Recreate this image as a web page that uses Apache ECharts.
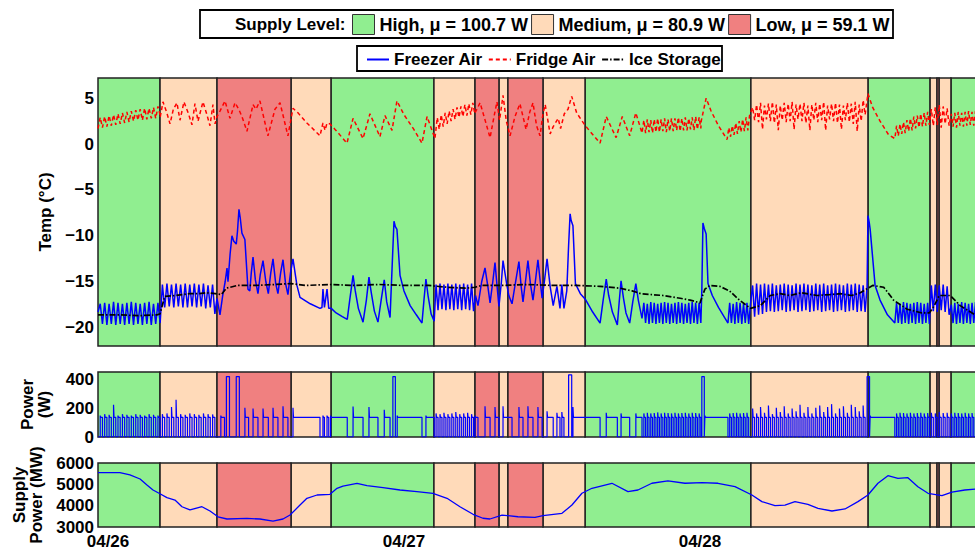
<!DOCTYPE html>
<html><head><meta charset="utf-8">
<script src="https://cdn.jsdelivr.net/npm/echarts@6/dist/echarts.min.js"></script>
<style>html,body{margin:0;padding:0;background:#fff}#c{width:975px;height:551px}</style>
</head><body><div id="c"></div>
<script>
// ---------------- DATA (time in hours since 04/26 00:00) ----------------
const levelNames = ['High, μ = 100.7 W', 'Medium, μ = 80.9 W', 'Low, μ = 59.1 W'];
const lineNames = ['Freezer Air', 'Fridge Air', 'Ice Storage'];
const xTickHours = [0, 24, 48];
const xTickLabels = ['04/26', '04/27', '04/28'];
const tempTicks = [-20, -15, -10, -5, 0, 5];
const powerTicks = [0, 200, 400];
const supplyTicks = [3000, 4000, 5000, 6000];

// supply-level periods: edges and level index (0 High, 1 Medium, 2 Low)
const bandEdges = [-0.81, 4.22, 8.84, 14.84, 18.08, 26.43, 29.76, 31.70, 32.43, 35.27, 38.68, 52.13, 61.62, 66.66, 67.22, 67.38, 68.35, 71.2];
const bandLevels = [0, 1, 2, 1, 0, 1, 2, 1, 2, 1, 0, 1, 0, 1, 2, 1, 0];

// Freezer air temperature: irregular readings [hour, °C]
const freezerPts = [
 [8.84,-16.8],[9.08,-18.6],[9.3,-16.5],[9.5,-15.0],[9.65,-13.5],[9.73,-15.0],[9.9,-12.0],[10.05,-10.0],[10.2,-10.6],[10.4,-10.9],[10.5,-9.5],[10.62,-7.1],[10.72,-8.0],[10.86,-9.7],[11.1,-10.4],[11.35,-15.8],[11.5,-16.0],[11.62,-14.0],[11.76,-12.3],[11.95,-14.8],[12.16,-16.3],[12.35,-14.2],[12.57,-12.7],[12.8,-15.0],[13.0,-16.3],[13.2,-14.0],[13.38,-12.5],[13.6,-15.2],[13.78,-16.3],[14.0,-14.0],[14.19,-12.6],[14.4,-15.2],[14.59,-16.4],[14.8,-14.0],[15.0,-12.5],[15.32,-15.4],[15.57,-16.7],[16.4,-17.4],[17.19,-17.9],[17.35,-17.8],[17.43,-15.8],[17.55,-17.8],[17.76,-15.8],[17.9,-17.9],
 [18.1,-17.9],[18.5,-18.4],[19.0,-18.8],[19.4,-19.1],[19.6,-17.0],[19.87,-14.3],[20.05,-16.0],[20.3,-17.9],[20.68,-19.4],[20.95,-17.0],[21.16,-14.5],[21.35,-16.2],[21.6,-18.2],[21.89,-19.4],[22.15,-17.0],[22.4,-14.8],[22.6,-17.2],[22.87,-18.9],[23.05,-13.0],[23.19,-8.4],[23.3,-9.0],[23.43,-9.3],[23.68,-14.3],[24.0,-16.0],[24.5,-17.6],[25.0,-18.6],[25.46,-19.5],[25.62,-17.0],[25.78,-14.7],[25.95,-16.5],[26.2,-18.5],[26.45,-19.3],
 [29.8,-16.5],[30.0,-17.6],[30.3,-15.0],[30.57,-13.5],[30.8,-15.5],[30.98,-17.3],[31.2,-15.0],[31.38,-12.9],[31.55,-15.5],[31.70,-17.7],[31.9,-15.0],[32.03,-12.7],[32.3,-15.0],[32.5,-16.5],[32.76,-17.4],[33.05,-15.0],[33.32,-12.8],[33.5,-15.5],[33.65,-17.2],[33.85,-15.0],[34.05,-12.7],[34.25,-15.2],[34.46,-17.0],[34.65,-15.0],[34.86,-12.6],[35.05,-15.0],[35.2,-16.8],[35.4,-14.8],[35.6,-12.5],[35.85,-15.5],[36.1,-17.6],[36.4,-15.5],[36.65,-17.9],[36.8,-15.3],[36.97,-17.9],[37.2,-16.0],[37.35,-11.0],[37.47,-7.6],[37.55,-8.3],[37.7,-8.9],[37.9,-15.2],[38.3,-16.3],[38.7,-16.9],[39.3,-18.3],[39.9,-19.5],[40.15,-17.0],[40.4,-14.7],[40.6,-16.5],[40.9,-18.3],[41.3,-19.7],[41.45,-17.2],[41.6,-14.9],[41.8,-16.8],[42.0,-18.4],[42.3,-19.5],[42.55,-17.2],[42.8,-15.2],[43.0,-17.0],[43.3,-19.0],
 [48.15,-16.0],[48.24,-8.6],[48.35,-9.2],[48.5,-9.8],[48.65,-15.2],[49.0,-16.5],[49.5,-17.8],[50.0,-18.9],[50.27,-19.5],
 [61.55,-15.5],[61.62,-7.8],[61.72,-8.5],[61.8,-9.3],[62.2,-15.4],[62.6,-17.0],[63.2,-18.6],[63.8,-19.5]
];
// Freezer air: regularly sampled cycling stretches [start hour, step hour, readings]
const freezerRuns = [
 [-0.81, 0.18, [-18.3,-17.4,-19.6,-17.3,-19.7,-17.4,-19.6,-17.2,-19.7,-17.3,-19.6,-17.4,-19.7,-17.3,-19.6,-17.2,-19.7,-17.3,-19.6,-17.4,-19.7,-17.3,-19.6,-17.2,-19.7,-17.4,-19.6,-17.3,-19.5]],
 [4.41, 0.185, [-15.3,-17.8,-15.2,-17.7,-15.3,-17.8,-15.2,-17.7,-15.3,-17.8,-15.2,-17.8,-15.3,-17.7,-15.2,-17.8,-15.3,-17.7,-15.2,-17.9,-15.4,-17.8,-15.3,-18.5]],
 [26.6, 0.16, [-15.3,-18.1,-15.2,-18.0,-15.3,-18.1,-15.2,-18.0,-15.3,-18.1,-15.2,-18.0,-15.3,-18.1,-15.2,-18.0,-15.3,-18.1,-15.2,-18.2]],
 [43.45, 0.14, [-17.3,-19.5,-17.4,-19.6,-17.2,-19.5,-17.3,-19.6,-17.4,-19.5,-17.3,-19.6,-17.2,-19.5,-17.3,-19.6,-17.4,-19.5,-17.3,-19.6,-17.2,-19.5,-17.3,-19.6,-17.4,-19.5,-17.3,-19.6,-17.2,-19.5,-17.3,-19.6,-17.3,-19.5]],
 [50.41, 0.14, [-17.3,-19.5,-17.4,-19.6,-17.2,-19.5,-17.3,-19.6,-17.4,-19.5,-17.3,-19.6,-17.5]],
 [52.27, 0.16, [-15.4,-18.8,-15.2,-18.6,-15.3,-18.5,-15.2,-18.3,-15.3,-18.2,-15.2,-18.3,-15.4,-18.2,-15.3,-18.1,-15.2,-18.3,-15.3,-18.2,-15.4,-18.1,-15.2,-18.3,-15.3,-18.2,-15.2,-18.1,-15.3,-18.3,-15.4,-18.2,-15.2,-18.1,-15.3,-18.3,-15.2,-18.2,-15.4,-18.1,-15.3,-18.3,-15.2,-18.2,-15.3,-18.1,-15.4,-18.3,-15.2,-18.2,-15.3,-18.1,-15.2,-18.3,-15.3,-18.2,-15.4,-18.3]],
 [63.94, 0.14, [-17.3,-19.5,-17.4,-19.6,-17.2,-19.5,-17.3,-19.6,-17.4,-19.5,-17.3,-19.6,-17.2,-19.5,-17.3,-19.6,-17.4,-19.5,-17.3,-19.6]],
 [66.76, 0.16, [-15.4,-18.2,-15.3,-18.3,-15.4,-18.1,-15.3,-18.3,-15.5,-18.6]],
 [68.38, 0.14, [-17.5,-19.5,-17.3,-19.6,-17.4,-19.5,-17.2,-19.6,-17.3,-19.5,-17.4,-19.6,-17.3,-19.5,-17.2,-19.6,-17.4,-19.5,-17.3,-19.6]]
];

// Fridge air temperature
const fridgePts = [
 [4.22,3.2],[4.46,4.6],[4.75,3.5],[5.03,2.2],[5.3,3.8],[5.59,4.5],[5.84,2.6],[6.16,4.6],[6.5,3.4],[6.81,2.1],[7.05,4.4],[7.30,2.5],[7.70,4.6],[8.0,3.3],[8.27,2.0],[8.51,4.3],[8.68,2.2],
 [8.84,3.0],[9.08,3.6],[9.49,4.7],[9.89,2.8],[10.30,4.5],[10.6,3.8],[10.86,3.0],[11.27,1.4],[11.76,4.3],[12.0,3.8],[12.32,4.7],[12.97,0.9],[13.54,3.8],[13.95,4.5],[14.59,0.9],[15.0,3.9],[15.41,3.4],[16.13,2.3],[17.19,0.9],[17.43,2.3],[17.6,1.5],[17.76,2.3],[18.0,2.2],[18.41,1.6],[19.38,0.1],[19.87,2.8],[20.68,0.6],[21.24,3.3],[22.05,0.8],[22.46,3.1],[23.03,1.5],[23.43,4.7],[24.0,3.2],[24.8,1.6],[25.46,0.1],[25.87,3.0],[26.51,0.6],
 [29.76,3.4],[30.17,4.5],[30.6,2.5],[30.98,0.7],[31.3,3.0],[31.54,4.6],[31.75,2.6],[32.03,5.3],[32.3,2.5],[32.6,0.9],[33.0,3.0],[33.4,4.4],[33.9,1.6],[34.2,3.5],[34.46,4.5],[34.75,2.0],[35.03,0.9],[35.27,3.3],[35.45,4.3],[35.85,1.1],[36.1,1.9],[36.5,2.8],[36.7,1.7],[37.0,3.3],[37.3,3.8],[37.6,5.2],[38.0,3.4],[38.7,2.0],[39.9,0.1],[40.4,3.0],[41.2,0.7],[41.7,3.0],[42.3,0.9],[42.8,3.4],[43.3,1.2],
 [48.1,2.5],[48.5,5.0],[48.9,3.6],[49.5,2.0],[50.2,0.5],
 [61.62,5.5],[62.0,4.0],[62.6,2.5],[63.3,1.0],[63.8,0.6]
];
const fridgeRuns = [
 [-0.81, 0.18, [1.7,2.9,1.8,3.0,1.9,3.1,2.0,3.2,2.1,3.3,2.2,3.4,2.3,3.5,2.4,3.6,2.5,3.7,2.6,3.8,2.6,3.9,2.7,3.9,2.8,4.0,2.8,4.1,2.9]],
 [26.7, 0.16, [2.9,1.6,3.2,1.9,3.4,2.2,3.6,2.5,3.8,2.7,4.0,2.9,4.1,3.0,4.3,3.1,4.4,3.2,4.5,3.3]],
 [43.45, 0.14, [2.6,1.2,2.7,1.3,2.6,1.2,2.7,1.3,2.8,1.3,2.7,1.4,2.8,1.3,2.7,1.4,2.8,1.4,2.8,1.5,2.9,1.4,2.8,1.5,2.9,1.5,2.8,1.6,2.9,1.5,3.0,1.6,2.9,1.7]],
 [50.34, 0.14, [1.8,0.8,2.0,1.0,2.3,1.1,2.5,1.3,2.7,1.4,2.9,1.5,3.1]],
 [52.27, 0.16, [4.0,2.6,4.3,2.4,4.5,1.6,4.2,2.7,4.4,2.5,4.6,2.3,4.3,1.5,4.2,2.6,4.5,2.4,4.4,2.5,4.6,1.6,4.3,2.7,4.4,2.5,4.5,2.3,4.2,1.5,4.3,2.6,4.5,2.4,4.4,2.6,4.6,1.5,4.2,2.7,4.4,2.5,4.5,2.3,4.3,1.6,4.2,2.6,4.5,2.4,4.4,2.2,4.6,1.4,4.3,2.5,4.8,3.2]],
 [63.94, 0.14, [2.0,0.9,2.2,1.1,2.4,1.2,2.6,1.4,2.8,1.5,3.0,1.7,3.1,1.8,3.3,1.9,3.4,2.0,3.5,2.1]],
 [66.76, 0.16, [3.8,2.0,4.0,2.1,4.3,1.8,4.1,2.2,3.9,2.0]],
 [68.38, 0.14, [3.3,1.9,3.4,1.8,3.5,2.0,3.4,1.9,3.5,2.0,3.6,2.1,3.5,2.0,3.6,2.1,3.5,2.1,3.6,2.2]]
];

// Ice storage temperature
const icePts = [[-0.81,-18.6],[1.0,-18.6],[2.5,-18.7],[4.0,-18.6],[4.22,-18.5],[4.6,-16.6],[5.5,-16.5],[6.0,-16.4],[6.6,-16.3],[7.4,-16.3],[8.0,-16.2],[8.7,-16.3],[9.2,-16.4],[9.6,-15.7],[10.5,-15.4],[12.0,-15.4],[13.5,-15.3],[14.8,-15.2],[16.0,-15.4],[18.0,-15.3],[20.0,-15.4],[22.0,-15.3],[24.0,-15.4],[26.0,-15.4],[27.5,-15.6],[29.0,-15.7],[29.76,-15.6],[30.3,-15.4],[32.0,-15.4],[34.0,-15.3],[36.0,-15.4],[38.0,-15.4],[39.9,-15.5],[41.5,-15.7],[42.5,-16.0],[43.2,-16.3],[45.0,-16.5],[46.4,-16.8],[47.2,-17.0],[48.0,-17.3],[48.4,-15.8],[48.8,-15.4],[49.6,-15.5],[50.4,-16.0],[51.2,-17.0],[52.1,-17.9],[52.9,-17.6],[53.7,-16.5],[54.5,-16.3],[55.3,-16.5],[56.2,-16.2],[57.5,-16.5],[58.5,-16.4],[59.4,-16.3],[60.3,-16.5],[61.0,-16.2],[61.5,-15.8],[62.0,-15.4],[62.9,-15.6],[63.7,-17.0],[64.8,-18.0],[66.0,-18.4],[66.6,-18.4],[67.0,-17.6],[67.4,-16.5],[68.3,-16.5],[69.1,-17.6],[70.3,-18.6]];

// Compressor / heater power: cycling stretches [first on hour, period, on duration, start spike W]
const powerOnLevel = 138;
const powerRuns = [
 [-0.63, 0.36, 0.18, [150,160,155,225,150,160,155,150,160,155,150,160,155,150]],
 [4.41, 0.37, 0.185, [160,165,210,260,160,155,165,160,155,165,160,158]],
 [26.6, 0.32, 0.16, [165,160,170,160,165,175,160,165,170,160]],
 [43.45, 0.28, 0.14, [165,170,165,168,172,165,170,168,165,170,165,168,170,165,170,168,165]],
 [50.41, 0.28, 0.14, [165,168,170,165,168,170]],
 [52.27, 0.32, 0.16, [200,165,210,170,220,160,205,175,215,165,200,180,225,170,210,165,205,220,175,210,230,165,200,215,170,225,210,180,220]],
 [63.94, 0.28, 0.14, [165,170,168,165,170,165,168,170,165,168]],
 [66.76, 0.32, 0.16, [170,165,175,168,170]],
 [68.38, 0.28, 0.14, [165,170,168,165,170,165,168,170,165,168]]
];
// individual on-periods [on hour, off hour, start spike W, level W]
const powerPulses = [
 [9.15,9.45,150,138],[9.6,9.85,423,423],[10.4,10.65,423,423],[11.1,11.4,205,138],[11.76,12.16,200,138],[12.57,13.0,200,138],[13.38,13.78,205,138],[14.19,14.59,215,138],[15.0,17.19,205,138],[17.43,17.55,150,138],[17.76,17.9,150,138],[18.05,19.4,150,138],[19.87,20.68,213,138],[21.16,21.89,210,138],[22.4,22.87,190,138],[23.1,23.3,423,423],[23.45,25.46,150,138],[25.78,26.45,150,138],
 [29.76,30.0,150,138],[30.57,30.98,215,138],[31.38,31.70,210,138],[32.03,32.76,215,138],[33.32,33.65,210,138],[34.05,34.46,215,138],[34.86,35.2,210,138],[35.6,36.1,180,138],[36.4,36.65,170,138],[36.8,36.97,175,138],[37.35,37.6,435,435],[37.7,39.9,210,138],[40.4,41.3,170,138],[41.6,42.3,165,138],[42.8,43.3,165,138],
 [48.15,48.35,423,423],[48.4,50.27,150,138],
 [61.55,61.75,423,423],[61.8,63.8,150,138]
];

// Grid supply power [hour, MW]
const supplyPts = [[-0.81,5550],[0.97,5550],[1.78,5440],[2.6,5250],[3.16,4970],[3.65,4735],[4.14,4580],[4.78,4375],[5.43,4265],[6.0,3950],[6.65,3800],[7.62,3950],[8.27,3750],[8.92,3480],[9.65,3375],[11.27,3400],[12.32,3375],[13.38,3280],[14.19,3375],[14.76,3560],[15.57,4030],[16.13,4345],[16.95,4500],[18.0,4530],[18.57,4815],[19.05,4920],[20.19,5050],[21.0,4940],[22.3,4845],[23.68,4735],[25.05,4660],[26.35,4580],[27.49,4345],[28.54,3950],[29.6,3595],[30.4,3410],[30.97,3375],[31.95,3560],[33.24,3480],[34.62,3450],[35.27,3530],[36.81,3640],[37.62,4030],[38.43,4580],[39.24,4815],[40.86,5050],[42.16,4660],[42.97,4735],[44.1,5050],[45.4,5160],[46.78,5050],[48.16,5080],[49.46,5050],[50.84,4890],[52.21,4500],[53.02,4190],[54.08,4000],[54.89,4030],[55.7,4190],[56.75,4060],[57.57,3875],[58.7,3750],[59.76,3845],[60.81,4190],[61.62,4500],[62.43,5050],[63.24,5405],[64.05,5280],[64.86,5310],[65.67,4890],[66.49,4580],[67.62,4470],[68.43,4630],[69.48,4735],[70.3,4780]];

// ---------------- BUILD ----------------
const X_MIN = -0.81, X_MAX = 70.30;
const FONT = "'Liberation Sans', Arial, Helvetica, sans-serif";
const levelColors = ['#90EE90', '#FFDAB9', '#F08080'];

function mergeSeries(pts, runs) {
  const out = pts.map(p => [p[0], p[1]]);
  runs.forEach(([t0, dt, vals]) => vals.forEach((v, i) => out.push([+(t0 + i * dt).toFixed(3), v])));
  out.sort((a, b) => a[0] - b[0]);
  return out;
}
const freezerData = mergeSeries(freezerPts, freezerRuns);
const fridgeData = mergeSeries(fridgePts, fridgeRuns);

const pulses = powerPulses.map(p => p.slice());
powerRuns.forEach(([t0, per, on, sp]) => sp.forEach((s, i) => pulses.push([t0 + i * per, t0 + i * per + on, s, powerOnLevel])));
pulses.sort((a, b) => a[0] - b[0]);
const powerData = [[X_MIN, 0]];
pulses.forEach(([a, b, s, f]) => {
  const e = Math.min(0.04, (b - a) / 3);
  powerData.push([a, 0], [a, s], [a + e, f], [b, f], [b, 0]);
});
powerData.push([X_MAX, 0]);

const bands = bandLevels.map((lv, i) => [bandEdges[i], bandEdges[i + 1], lv]);

const grids = [
  {left: 98, top: 78, width: 877, height: 268},
  {left: 98, top: 372, width: 877, height: 65},
  {left: 98, top: 463, width: 877, height: 64}
].map(g => Object.assign(g, {show: false}));

const yRanges = [[-22, 7.2], [0, 455], [3000, 6000]];

function xAx(gi, labels) {
  return {
    type: 'value', gridIndex: gi, min: X_MIN, max: X_MAX,
    axisLine: {show: false}, axisTick: {show: false}, splitLine: {show: false},
    axisLabel: labels ? {
      customValues: xTickHours, margin: 6,
      formatter: v => { const k = xTickHours.indexOf(v); return k < 0 ? '' : xTickLabels[k]; },
      fontFamily: FONT, fontWeight: 'bold', fontSize: 17, color: '#000'
    } : {show: false}
  };
}
function yAx(gi, ticks, name, gap) {
  return {
    type: 'value', gridIndex: gi, min: yRanges[gi][0], max: yRanges[gi][1],
    name: name, nameLocation: 'middle', nameRotate: 90, nameGap: gap,
    nameTextStyle: {fontFamily: FONT, fontWeight: 'bold', fontSize: 17, color: '#000', lineHeight: 17},
    axisLine: {show: false}, axisTick: {show: false}, splitLine: {show: false},
    axisLabel: {
      customValues: ticks, margin: 4,
      formatter: v => String(v).replace('-', '\u2212'),
      fontFamily: FONT, fontWeight: 'bold', fontSize: 17, color: '#000'
    }
  };
}

function bandSeries(gi, lv) {
  return {
    type: 'custom', name: levelNames[lv], xAxisIndex: gi, yAxisIndex: gi, z: 1,
    itemStyle: {color: levelColors[lv]},
    data: bands.filter(b => b[2] === lv).map(b => [b[0], b[1], yRanges[gi][0]]),
    encode: {x: [0, 1], y: 2},
    silent: true, clip: false,
    renderItem: (params, api) => {
      const cs = params.coordSys;
      const x0 = api.coord([api.value(0), yRanges[gi][0]])[0];
      const x1 = api.coord([api.value(1), yRanges[gi][0]])[0];
      return {type: 'rect', shape: {x: x0, y: cs.y, width: x1 - x0, height: cs.height},
        style: {fill: levelColors[lv], stroke: '#222', lineWidth: 1.5}};
    }
  };
}

const series = [];
[0, 1, 2].forEach(gi => [0, 1, 2].forEach(lv => series.push(bandSeries(gi, lv))));
series.push(
  {type: 'line', name: 'Freezer Air', xAxisIndex: 0, yAxisIndex: 0, data: freezerData, symbol: 'none', showSymbol: false, z: 3,
   itemStyle: {color: '#0000ff'}, lineStyle: {color: '#0000ff', width: 1.5}},
  {type: 'line', name: 'Fridge Air', xAxisIndex: 0, yAxisIndex: 0, data: fridgeData, symbol: 'none', showSymbol: false, z: 3,
   itemStyle: {color: '#ff0000'}, lineStyle: {color: '#ff0000', width: 1.5, type: [4, 3]}},
  {type: 'line', name: 'Ice Storage', xAxisIndex: 0, yAxisIndex: 0, data: icePts, symbol: 'none', showSymbol: false, z: 4,
   itemStyle: {color: '#000'}, lineStyle: {color: '#000', width: 1.7, type: [6, 2, 1.5, 2]}},
  {type: 'line', name: 'Power', xAxisIndex: 1, yAxisIndex: 1, data: powerData, symbol: 'none', showSymbol: false, z: 3,
   lineStyle: {color: '#0000ff', width: 1.2}},
  {type: 'line', name: 'Supply Power', xAxisIndex: 2, yAxisIndex: 2, data: supplyPts, symbol: 'none', showSymbol: false, z: 3,
   lineStyle: {color: '#0000ff', width: 1.3}}
);

const legendText0 = {fontFamily: FONT, fontWeight: 'bold', fontSize: 18, color: '#000'};
const legendText1 = {fontFamily: FONT, fontWeight: 'bold', fontSize: 17, color: '#000'};
const option = {
  animation: false,
  backgroundColor: '#fff',
  grid: grids,
  xAxis: [xAx(0, false), xAx(1, false), xAx(2, true)],
  yAxis: [yAx(0, tempTicks, 'Temp (°C)', 36), yAx(1, powerTicks, 'Power\n(W)', 45), yAx(2, supplyTicks, 'Supply\nPower (MW)', 53)],
  legend: [
    {data: levelNames.map(n => ({name: n, icon: 'rect'})), left: 352, top: 14, itemWidth: 22, itemHeight: 20, itemGap: 3,
     textStyle: legendText0, itemStyle: {borderColor: '#333', borderWidth: 1}, selectedMode: false, padding: 0},
    {data: lineNames, left: 366, top: 51, itemWidth: 22, itemHeight: 14, itemGap: 5,
     textStyle: legendText1, itemStyle: {opacity: 0, color: 'transparent', borderWidth: 0}, selectedMode: false, padding: 0}
  ],
  graphic: [
    {type: 'rect', z: 0, shape: {x: 200, y: 10, width: 693, height: 28}, style: {fill: '#fff', stroke: '#000', lineWidth: 1.8}},
    {type: 'text', z: 1, x: 235, y: 24, style: {text: 'Supply Level:', fill: '#000', font: 'bold 17px ' + FONT, verticalAlign: 'middle'}},
    {type: 'rect', z: 0, shape: {x: 357, y: 46, width: 365, height: 25}, style: {fill: '#fff', stroke: '#000', lineWidth: 1.8}}
  ],
  series: series
};
const chart = echarts.init(document.getElementById('c'), null, {renderer: 'svg'});
chart.setOption(option);
</script>
</body></html>
